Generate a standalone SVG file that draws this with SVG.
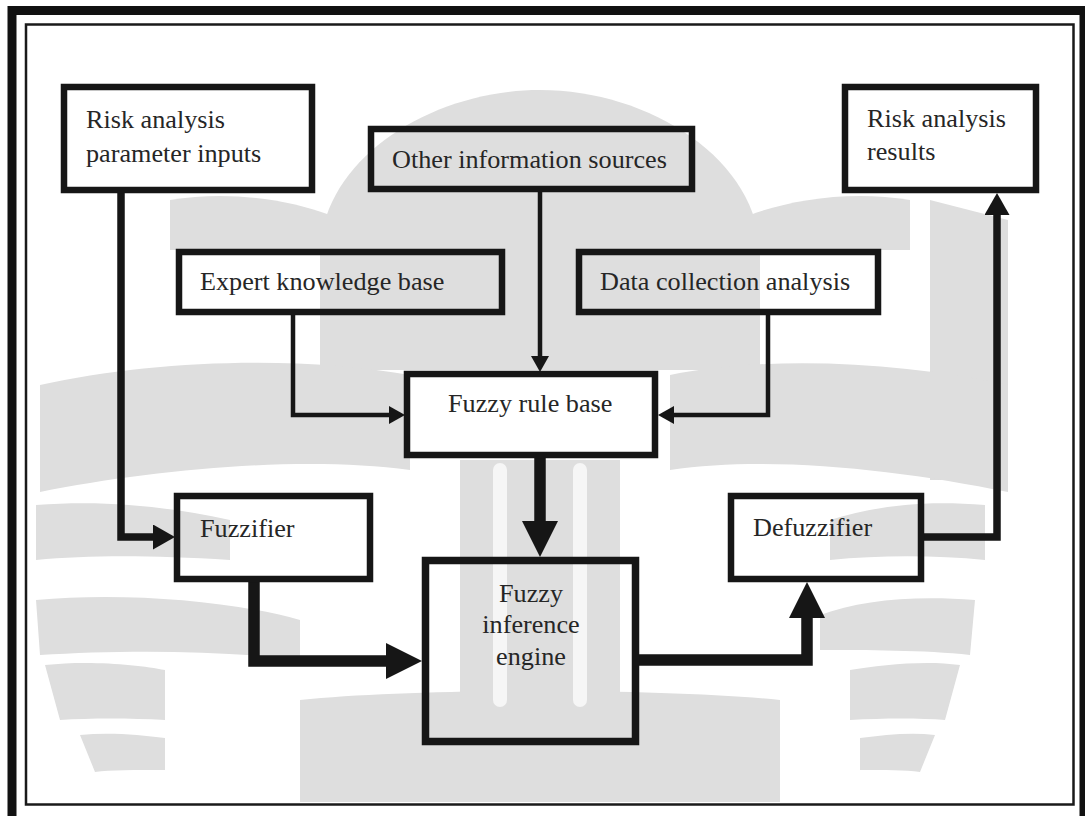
<svg xmlns="http://www.w3.org/2000/svg" width="1085" height="816" viewBox="0 0 1085 816">
  <style>
    .frame-outer { fill: none; stroke: #111; stroke-width: 9; }
    .frame-inner { fill: none; stroke: #1a1a1a; stroke-width: 2.5; }
    .box { fill: none; stroke: #161616; stroke-width: 6.5; }
    .box-heavy { fill: none; stroke: #161616; stroke-width: 7.5; }
    .label { font-family: "Liberation Serif", "Times New Roman", serif; font-size: 26.2px; fill: #262626; }
    .link { fill: none; stroke: #161616; stroke-linejoin: miter; stroke-linecap: butt; }
    .thin { stroke-width: 4.5; }
    .mid { stroke-width: 7.5; }
    .thick { stroke-width: 11.5; }
    .wm { fill: #dedede; }
    .wm-gap { fill: none; stroke: #f6f6f6; stroke-width: 14; stroke-linecap: round; }
  </style>
  <defs>
    <marker id="arrow-s" markerUnits="userSpaceOnUse" markerWidth="16" markerHeight="18" refX="0" refY="9" orient="auto">
      <path d="M0,0 L16,9 L0,18 Z" fill="#161616"/>
    </marker>
    <marker id="arrow-m" markerUnits="userSpaceOnUse" markerWidth="22" markerHeight="25" refX="0" refY="12.5" orient="auto">
      <path d="M0,0 L22,12.5 L0,25 Z" fill="#161616"/>
    </marker>
    <marker id="arrow-l" markerUnits="userSpaceOnUse" markerWidth="36" markerHeight="36" refX="0" refY="18" orient="auto">
      <path d="M0,0 L36,18 L0,36 Z" fill="#161616"/>
    </marker>
  </defs>

  <rect width="1085" height="816" fill="#ffffff"/>

  <!-- faint emblem printed behind the chart -->
  <g id="emblem">
    <path class="wm" d="M320,370 L320,255 C320,160 430,90 540,90 C650,90 760,160 760,255 L760,370 Z"/>
    <path class="wm" d="M170,200 C230,190 290,200 330,215 L330,250 L170,250 Z"/>
    <path class="wm" d="M750,215 C790,200 850,190 910,200 L910,250 L750,250 Z"/>
    <path class="wm" d="M930,200 L1008,220 L1008,480 L930,480 Z"/>
    <path class="wm" d="M40,385 C150,360 300,355 410,375 L410,470 C300,455 150,470 40,492 Z"/>
    <path class="wm" d="M1008,385 C900,362 770,355 670,375 L670,470 C770,455 900,470 1008,492 Z"/>
    <path class="wm" d="M36,505 C100,500 160,505 230,520 L230,560 C150,555 90,555 36,560 Z"/>
    <path class="wm" d="M36,600 C120,592 230,600 300,620 L300,660 C220,650 120,650 40,655 Z"/>
    <path class="wm" d="M45,665 C90,660 140,665 165,670 L165,720 C130,718 90,718 60,720 Z"/>
    <path class="wm" d="M80,735 C110,732 140,735 165,738 L165,770 C135,770 110,770 95,772 Z"/>
    <path class="wm" d="M985,505 C925,500 880,505 830,520 L830,560 C880,555 935,555 985,560 Z"/>
    <path class="wm" d="M975,600 C915,595 860,600 820,615 L820,650 C865,650 925,650 970,655 Z"/>
    <path class="wm" d="M960,665 C925,660 880,665 850,670 L850,720 C885,718 920,718 945,720 Z"/>
    <path class="wm" d="M935,735 C910,732 885,735 860,738 L860,770 C885,770 905,770 920,772 Z"/>
    <path class="wm" d="M300,700 C420,688 660,688 780,700 L780,802 L300,802 Z"/>
    <rect class="wm" x="460" y="460" width="160" height="240"/>
    <path class="wm-gap" d="M500,470 V700"/>
    <path class="wm-gap" d="M580,470 V700"/>
  </g>

  <!-- page frame -->
  <path class="frame-outer" d="M12,816 V10.5 H1084 V816"/>
  <rect class="frame-inner" x="26" y="24.5" width="1047.5" height="780"/>

  <!-- connectors -->
  <g id="connectors">
    <path class="link thin" d="M540,192 V356" marker-end="url(#arrow-s)"/>
    <path class="link thin" d="M293,315 V415 H389" marker-end="url(#arrow-s)"/>
    <path class="link thin" d="M768,315 V415 H674" marker-end="url(#arrow-s)"/>
    <path class="link mid" d="M121,193 V537 H153" marker-end="url(#arrow-m)"/>
    <path class="link mid" d="M924,537 H997 V215" marker-end="url(#arrow-m)"/>
    <path class="link thick" d="M540,458 V521" marker-end="url(#arrow-l)"/>
    <path class="link thick" d="M254,582 V661 H386" marker-end="url(#arrow-l)"/>
    <path class="link thick" d="M639,660 H807 V618" marker-end="url(#arrow-l)"/>
  </g>

  <g id="risk-inputs">
    <rect class="box" x="64" y="87" width="248" height="103"/>
    <text class="label" x="86" y="128">Risk analysis</text>
    <text class="label" x="86" y="162">parameter inputs</text>
  </g>

  <g id="other-sources">
    <rect class="box" x="371" y="129" width="321" height="60"/>
    <text class="label" x="392" y="168">Other information sources</text>
  </g>

  <g id="risk-results">
    <rect class="box" x="845" y="87" width="191" height="103"/>
    <text class="label" x="867" y="127">Risk analysis</text>
    <text class="label" x="867" y="160">results</text>
  </g>

  <g id="expert-base">
    <rect class="box" x="179" y="252" width="323" height="60"/>
    <text class="label" x="200" y="290">Expert knowledge base</text>
  </g>

  <g id="data-analysis">
    <rect class="box" x="579" y="252" width="299" height="60"/>
    <text class="label" x="600" y="290">Data collection analysis</text>
  </g>

  <g id="rule-base">
    <rect class="box" x="407" y="374" width="248" height="81"/>
    <text class="label" x="448" y="412">Fuzzy rule base</text>
  </g>

  <g id="fuzzifier">
    <rect class="box" x="177" y="496" width="193" height="83"/>
    <text class="label" x="200" y="537">Fuzzifier</text>
  </g>

  <g id="inference-engine">
    <rect class="box-heavy" x="425.5" y="560.5" width="210" height="181"/>
    <text class="label" x="531" y="602" text-anchor="middle">Fuzzy</text>
    <text class="label" x="531" y="633" text-anchor="middle">inference</text>
    <text class="label" x="531" y="665" text-anchor="middle">engine</text>
  </g>

  <g id="defuzzifier">
    <rect class="box" x="731" y="496" width="190" height="83"/>
    <text class="label" x="753" y="536">Defuzzifier</text>
  </g>
</svg>
